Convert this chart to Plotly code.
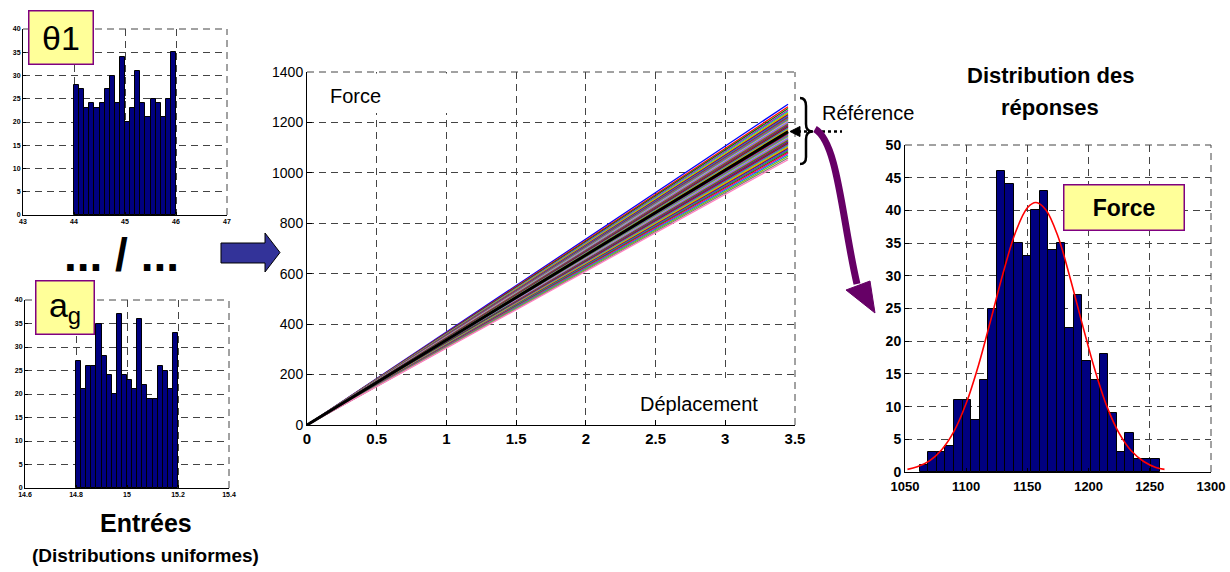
import numpy as np
import plotly.graph_objects as go

W, H = 1230, 572
FONT = "Liberation Sans, Arial, sans-serif"

# ---------------- data ----------------
theta1_start, theta1_width = 44.0, 0.1
theta1_counts = [28, 27, 23, 24, 23, 24, 27, 30, 24, 34, 20, 23, 31, 24, 21, 25, 24, 21, 25, 35]
theta1_ticks = [43, 44, 45, 46, 47]

ag_start, ag_width = 14.8, 0.02
ag_counts = [27, 21, 26, 26, 35, 28, 24, 20, 37, 24, 23, 21, 36, 22, 19, 19, 26, 25, 21, 33]
ag_ticks = [14.6, 14.8, 15.0, 15.2, 15.4]
ag_ticktext = ["14.6", "14.8", "15", "15.2", "15.4"]

hist_y_ticks = [0, 5, 10, 15, 20, 25, 30, 35, 40]

force_start, force_width = 1062.0, 7.0
force_counts = [1, 3, 3, 4, 11, 11, 8, 14, 25, 46, 44, 35, 33, 40, 43, 34, 35, 22, 27, 17,
                14, 18, 9, 3, 6, 2, 2, 2]
fit_x = [1052, 1060, 1070, 1080, 1090, 1100, 1110, 1120, 1130, 1140, 1150, 1157, 1165,
         1175, 1185, 1195, 1205, 1215, 1225, 1235, 1245, 1255, 1262]
fit_y = [0.4, 0.8, 1.7, 3.4, 6.2, 10.5, 16.3, 23.2, 30.3, 36.5, 40.4, 41.2, 40.1,
         36.0, 29.6, 22.5, 15.7, 10.0, 5.9, 3.2, 1.6, 0.7, 0.4]
force_x_ticks = [1050, 1100, 1150, 1200, 1250, 1300]
force_y_ticks = [0, 5, 10, 15, 20, 25, 30, 35, 40, 45, 50]

disp_end = 3.45
curve_end_forces = [1272, 1262, 1255, 1248, 1243, 1238, 1234, 1230, 1226, 1222, 1219, 1216,
                    1213, 1210, 1207, 1204, 1201, 1198, 1195, 1192, 1190, 1187, 1184, 1181,
                    1178, 1175, 1172, 1169, 1166, 1160, 1157, 1154, 1151, 1148, 1145, 1142,
                    1139, 1136, 1133, 1130, 1127, 1124, 1121, 1118, 1115, 1112, 1108, 1104,
                    1100, 1096, 1092, 1088, 1083, 1078, 1072, 1066, 1059, 1052]
reference_force = 1163
main_x_ticks = [0, 0.5, 1, 1.5, 2, 2.5, 3, 3.5]
main_y_ticks = [0, 200, 400, 600, 800, 1000, 1200, 1400]

palette = ["#0000FF", "#FF0000", "#008000", "#BF00BF", "#00BFBF", "#BFBF00", "#FF8000",
           "#404040", "#8000FF", "#00C060", "#804000", "#FF0080", "#0080FF", "#80C000",
           "#808080", "#FF80C0", "#00E0E0", "#FF00FF", "#A0A000", "#006060", "#C06000"]

BAR = "#000080"
GRIDCOL = "#444444"
DASH = "7px,5px"


def px(x):
    return x / W


def py(y):
    return 1 - y / H


fig = go.Figure()

c1 = theta1_start + theta1_width * (np.arange(len(theta1_counts)) + 0.5)
fig.add_trace(go.Bar(x=c1, y=theta1_counts, width=theta1_width, marker=dict(color=BAR, line=dict(color="black", width=1)),
                     xaxis="x", yaxis="y", showlegend=False))
c2 = ag_start + ag_width * (np.arange(len(ag_counts)) + 0.5)
fig.add_trace(go.Bar(x=c2, y=ag_counts, width=ag_width, marker=dict(color=BAR, line=dict(color="black", width=1)),
                     xaxis="x2", yaxis="y2", showlegend=False))
for i, f in enumerate(curve_end_forces):
    fig.add_trace(go.Scatter(x=[0, disp_end], y=[0, f], mode="lines",
                             line=dict(color=palette[i % len(palette)], width=1.3),
                             xaxis="x3", yaxis="y3", showlegend=False))
fig.add_trace(go.Scatter(x=[0, disp_end], y=[0, reference_force], mode="lines",
                         line=dict(color="black", width=3), xaxis="x3", yaxis="y3", showlegend=False))
c4 = force_start + force_width * (np.arange(len(force_counts)) + 0.5)
fig.add_trace(go.Bar(x=c4, y=force_counts, width=force_width, marker=dict(color=BAR, line=dict(color="black", width=1)),
                     xaxis="x4", yaxis="y4", showlegend=False))
fig.add_trace(go.Scatter(x=fit_x, y=fit_y, mode="lines", line=dict(color="#FF0000", width=1.6, shape="spline"),
                         xaxis="x4", yaxis="y4", showlegend=False))

GRID = dict(showgrid=True, gridcolor=GRIDCOL, griddash=DASH, gridwidth=1, zeroline=False,
            showline=True, linecolor="black", linewidth=1, ticks="inside", mirror=False, automargin=False)


def ax(domain, rng, tickvals, ticktext, size, bold, ticklen, anchor, **kw):
    d = dict(GRID)
    d.update(domain=domain, range=rng, tickvals=tickvals, ticktext=ticktext, anchor=anchor,
             ticklen=ticklen, tickcolor="black",
             tickfont=dict(family=FONT, size=size, color="black", weight="bold" if bold else "normal"))
    d.update(kw)
    return d


fig.update_layout(
    width=W, height=H, margin=dict(l=0, r=0, t=0, b=0, autoexpand=False), autosize=False,
    paper_bgcolor="white", plot_bgcolor="white", bargap=0,
    xaxis=ax([px(23), px(227)], [43, 47], theta1_ticks, [str(t) for t in theta1_ticks], 7, True, 3, "y"),
    yaxis=ax([py(215), py(29)], [0, 40], hist_y_ticks, [str(t) for t in hist_y_ticks], 7, True, 3, "x"),
    xaxis2=ax([px(25), px(229)], [14.6, 15.4], ag_ticks, ag_ticktext, 7, True, 3, "y2"),
    yaxis2=ax([py(488), py(300)], [0, 40], hist_y_ticks, [str(t) for t in hist_y_ticks], 7, True, 3, "x2"),
    xaxis3=ax([px(307), px(795)], [0, 3.5], main_x_ticks, ["0", "0.5", "1", "1.5", "2", "2.5", "3", "3.5"], 15, True, 5, "y3"),
    yaxis3=ax([py(425), py(72)], [0, 1400], main_y_ticks, [str(t) for t in main_y_ticks], 14, False, 5, "x3"),
    xaxis4=ax([px(905), px(1211)], [1050, 1300], force_x_ticks, [str(t) for t in force_x_ticks], 13, True, 4, "y4",
              ticklabelstandoff=2),
    yaxis4=ax([py(472), py(145)], [0, 50], force_y_ticks, [str(t) for t in force_y_ticks], 14, True, 4, "x4"),
)


def P(pts):
    return " ".join(("M" if i == 0 else "L") + f"{px(x):.5f},{py(y):.5f}" for i, (x, y) in enumerate(pts))


shapes = []
# dashed top / right borders of each axes box (grid lines at the range limits)
for sfx in ["", "2", "3", "4"]:
    xr, yr = f"x{sfx} domain", f"y{sfx} domain"
    shapes.append(dict(type="line", xref=xr, yref=yr, x0=0, x1=1, y0=1, y1=1,
                       line=dict(color=GRIDCOL, width=1, dash=DASH), layer="below"))
    shapes.append(dict(type="line", xref=xr, yref=yr, x0=1, x1=1, y0=0, y1=1,
                       line=dict(color=GRIDCOL, width=1, dash=DASH), layer="below"))
for (x0, y0, x1, y1) in [(310, 73.5, 462, 113), (630, 378, 785, 418)]:
    shapes.append(dict(type="rect", xref="paper", yref="paper", x0=px(x0), x1=px(x1), y0=py(y1), y1=py(y0),
                       fillcolor="white", line=dict(width=0), layer="above"))
shapes.append(dict(type="path", xref="paper", yref="paper",
                   path=P([(221, 243), (265, 243), (265, 233), (280, 252.5), (265, 272), (265, 263), (221, 263)]) + " Z",
                   fillcolor="#333399", line=dict(color="black", width=1), layer="above"))
shapes.append(dict(type="line", xref="paper", yref="paper", x0=px(798), x1=px(842), y0=py(131.5), y1=py(131.5),
                   line=dict(color="black", width=2.5, dash="dot"), layer="above"))
shapes.append(dict(type="path", xref="paper", yref="paper", path=P([(790, 131.5), (800, 126.5), (800, 136.5)]) + " Z",
                   fillcolor="black", line=dict(color="black", width=1), layer="above"))
brace = (f"M{px(800)},{py(98)} Q{px(806)},{py(98)} {px(806)},{py(106)} L{px(806)},{py(124)} "
         f"Q{px(806)},{py(131)} {px(812)},{py(131.5)} Q{px(806)},{py(132)} {px(806)},{py(139)} "
         f"L{px(806)},{py(157)} Q{px(806)},{py(164)} {px(800)},{py(164)}")
shapes.append(dict(type="path", xref="paper", yref="paper", path=brace, line=dict(color="black", width=2.5), layer="above"))
curve = f"M{px(815)},{py(129)} C{px(838)},{py(142)} {px(842)},{py(220)} {px(857)},{py(284)}"
shapes.append(dict(type="path", xref="paper", yref="paper", path=curve, line=dict(color="#660066", width=7), layer="above"))
shapes.append(dict(type="path", xref="paper", yref="paper", path=P([(846, 290), (870, 281), (875, 313)]) + " Z",
                   fillcolor="#660066", line=dict(color="#660066", width=1), layer="above"))
fig.update_layout(shapes=shapes)

ann = []


def text(x, y, s, size, bold=False, **kw):
    d = dict(x=px(x), y=py(y), xref="paper", yref="paper", text=s, showarrow=False,
             font=dict(family=FONT, size=size, color="black", weight="bold" if bold else "normal"),
             xanchor="center", yanchor="middle")
    d.update(kw)
    ann.append(d)


box = dict(bgcolor="#FFFF99", bordercolor="#800080", borderwidth=1.5, borderpad=0)
text(60.5, 37, "θ1", 34, width=63, height=52, **box)
text(64.5, 307, "a<sub>g</sub>", 34, width=57, height=52, **box)
text(1123.5, 207, "Force", 23, True, width=119, height=44, **box)
text(121, 255, "... / ...", 46, True)
text(146, 523, "Entrées", 25, True)
text(145, 555, "(Distributions uniformes)", 19, True)
text(355, 96, "Force", 20)
text(699, 404, "Déplacement", 20)
text(868, 113, "Référence", 20)
text(1050, 75, "Distribution des", 22, True)
text(1050, 107, "réponses", 22, True)
fig.update_layout(annotations=ann)

fig.write_html("out.html", config={"displayModeBar": False},
               post_script="document.body.style.margin='0';")
